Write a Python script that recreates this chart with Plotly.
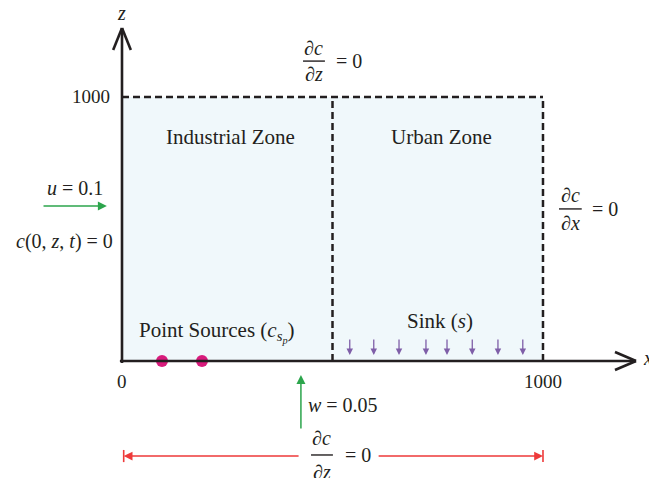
import plotly.graph_objects as go

# Domain and axis geometry (model units: x and z in metres)
domain_x = [0, 1000]
domain_z = [0, 1000]
zone_split_x = 500
x_axis_end = 1221
z_axis_end = 1261

# Point sources along the ground
source_x = [95, 190]
source_z = [0, 0]

# Sink arrows over the urban zone
sink_x = [541, 598, 658, 722, 772, 832, 893, 952]
sink_top, sink_bottom = 87, 23

# Tick labels
x_ticks = [0, 1000]
x_tick_labels = ["0", "1000"]
z_ticks = [1000]
z_tick_labels = ["1000"]

FONT = "Liberation Serif"
FS = 19      # numbers and formulas
FS_WORD = 21 # word labels
BLACK = "#231f20"
GREEN = "#2ca54c"
RED = "#ee3a3a"
PURPLE = "#7f5fa8"
MAGENTA = "#d81b7c"
FILL = "rgb(240,248,251)"

fig = go.Figure()

shapes = []
annotations = []

def text(x, y, s, size=FS, xanchor="center", yanchor="middle"):
    annotations.append(dict(x=x, y=y, text=s, showarrow=False, xref="x", yref="y",
                            xanchor=xanchor, yanchor=yanchor,
                            font=dict(family=FONT, size=size, color=BLACK)))

def line(x0, y0, x1, y1, color=BLACK, width=2.5, dash=None):
    d = dict(type="line", x0=x0, y0=y0, x1=x1, y1=y1, xref="x", yref="y",
             line=dict(color=color, width=width))
    if dash:
        d["line"]["dash"] = dash
    shapes.append(d)

def arrow(x0, y0, x1, y1, color, width=1.5, head=2, size=1.0):
    annotations.append(dict(x=x1, y=y1, ax=x0, ay=y0, xref="x", yref="y",
                            axref="x", ayref="y", text="", showarrow=True,
                            arrowhead=head, arrowsize=size, arrowwidth=width,
                            arrowcolor=color))

def fraction(xc, y_line, half, num, den, dy):
    line(xc - half, y_line, xc + half, y_line, width=1.4)
    text(xc, y_line + dy, num, size=20)
    text(xc, y_line - dy, den, size=20)

# Domain fill
shapes.append(dict(type="rect", x0=domain_x[0], y0=domain_z[0], x1=domain_x[1], y1=domain_z[1],
                   xref="x", yref="y", fillcolor=FILL, line=dict(width=0), layer="below"))

# Dashed boundaries
dash = "7px,4px"
line(domain_x[0], domain_z[1], domain_x[1], domain_z[1], dash=dash)
line(zone_split_x, domain_z[0], zone_split_x, domain_z[1], dash=dash)
line(domain_x[1], domain_z[0], domain_x[1], domain_z[1], dash=dash)

# Coordinate axes with open arrowheads
line(-5, 0, x_axis_end, 0, width=2.6)
line(x_axis_end - 50, 34, x_axis_end, 0, width=2.6)
line(x_axis_end - 50, -34, x_axis_end, 0, width=2.6)
line(0, -8, 0, z_axis_end, width=2.6)
line(-21, z_axis_end - 83, 0, z_axis_end, width=2.6)
line(21, z_axis_end - 83, 0, z_axis_end, width=2.6)

text(-2, 1318, "<i>z</i>", size=20)
text(1233, 11, "<i>x</i>", size=20, xanchor="left")

for xv, lab in zip(x_ticks, x_tick_labels):
    text(xv, -76, lab)
for zv, lab in zip(z_ticks, z_tick_labels):
    text(-24, zv, lab, xanchor="right")

# Zone labels
text(257, 848, "Industrial Zone", size=FS_WORD)
text(760, 848, "Urban Zone", size=FS_WORD)

# Boundary conditions
fraction(456, 1136, 26, "∂<i>c</i>", "∂<i>z</i>", 50)
text(538, 1136, "= 0", size=20)

fraction(1065, 576, 27, "∂<i>c</i>", "∂<i>x</i>", 52)
text(1147, 576, "= 0", size=20)

fraction(475, -356, 26, "∂<i>c</i>", "∂<i>z</i>", 63)
text(560, -356, "= 0", size=20)

text(-112, 655, "<i>u</i> = 0.1", size=20)
arrow(-190, 587, -36, 587, GREEN, width=1.5, head=2, size=1.2)

text(-17, 451, "<i>c</i>(0, <i>z</i>, <i>t</i>) = 0", size=20, xanchor="right")

text(437, -167, "<i>w</i> = 0.05", size=20, xanchor="left")
arrow(425, -261, 425, -53, GREEN, width=1.5, head=2, size=1.2)

# Ground boundary span
arrow(423, -360, 4, -360, RED, width=1.6, head=2, size=1.1)
arrow(606, -360, 1000, -360, RED, width=1.6, head=2, size=1.1)
line(4, -383, 4, -337, color=RED, width=1.6)
line(1000, -383, 1000, -337, color=RED, width=1.6)

# Sources and sink
text(226, 110, "Point Sources (<i>c</i><sub><i>s</i><sub><i>p</i></sub></sub>)", size=FS_WORD)
text(755, 152, "Sink (<i>s</i>)", size=FS_WORD)
for sx in sink_x:
    arrow(sx, sink_top, sx, sink_bottom, PURPLE, width=1.3, head=2, size=1.0)

fig.add_trace(go.Scatter(x=source_x, y=source_z, mode="markers",
                         marker=dict(size=12, color=MAGENTA), hoverinfo="skip",
                         cliponaxis=False))

fig.update_layout(
    width=649, height=478,
    margin=dict(l=0, r=0, t=0, b=0),
    paper_bgcolor="white", plot_bgcolor="white",
    showlegend=False,
    shapes=shapes, annotations=annotations,
    xaxis=dict(range=[-289.8, 1251.8], visible=False, fixedrange=True),
    yaxis=dict(range=[-443.2, 1367.4], visible=False, fixedrange=True),
)

fig.write_html("out.html")
